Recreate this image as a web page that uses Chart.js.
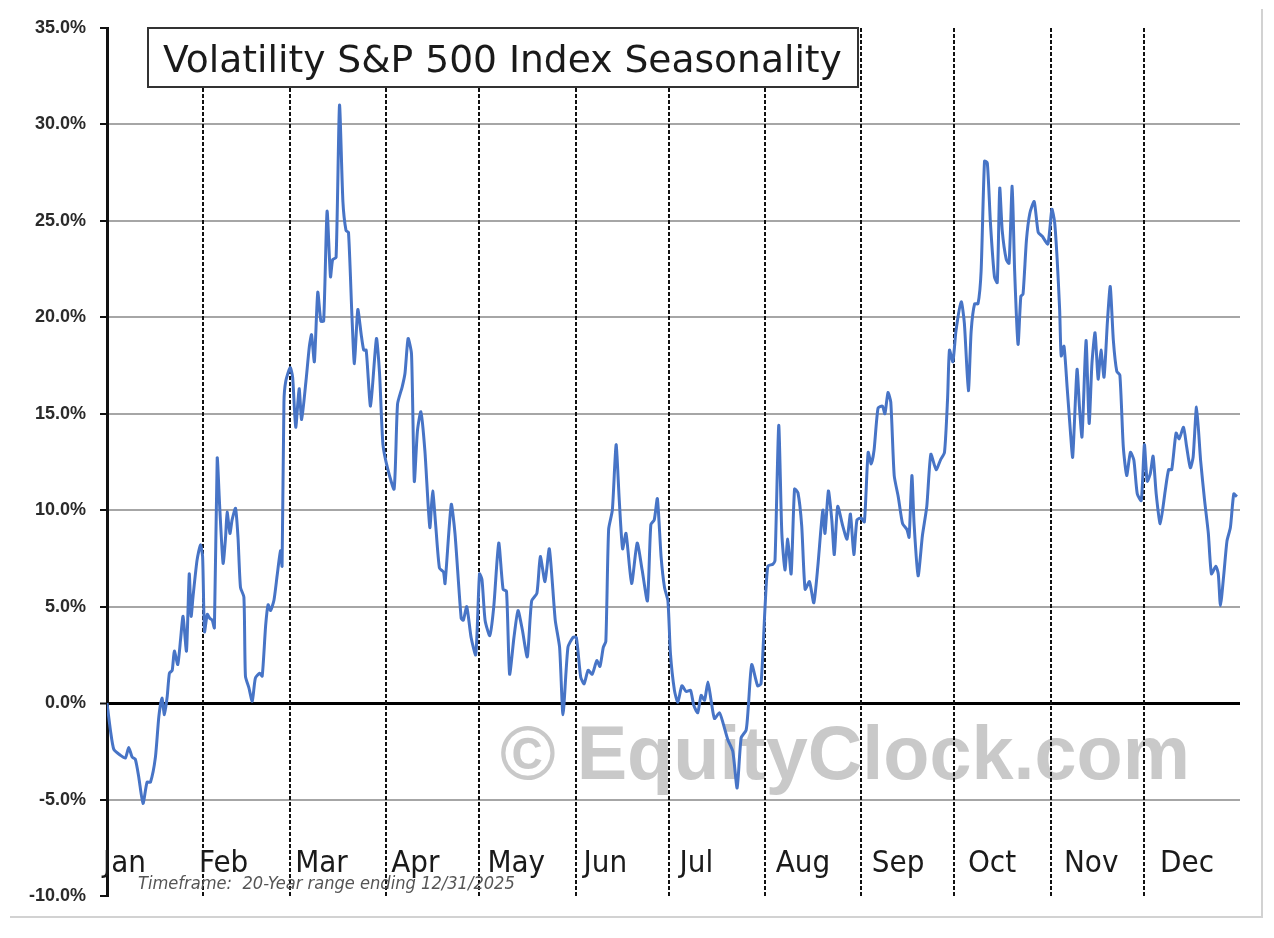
<!DOCTYPE html>
<html>
<head>
<meta charset="utf-8">
<script src="https://cdn.jsdelivr.net/npm/chart.js@4.4.1/dist/chart.umd.min.js"></script>
<style>
  html, body { margin: 0; padding: 0; background: #ffffff; }
  #wrap { width: 1274px; height: 938px; }
</style>
</head>
<body>
<div id="wrap"><canvas id="c" width="1274" height="938"></canvas></div>
<script>
// ---- DATA ----
const chartTitle = 'Volatility S&P 500 Index Seasonality';
const footnote = 'Timeframe:  20-Year range ending 12/31/2025';
const watermark = '\u00A9 EquityClock.com';

const monthLabels = ['Jan','Feb','Mar','Apr','May','Jun','Jul','Aug','Sep','Oct','Nov','Dec'];
const monthStarts = [0, 31, 59, 90, 120, 151, 181, 212, 243, 273, 304, 334];
const yTickValues = [-10, -5, 0, 5, 10, 15, 20, 25, 30, 35];

const dayOfYear = [
  0, 1.1, 2.2, 4.3, 5.9, 7.0, 8.1, 9.1, 10.2, 11.6, 12.9, 14.0, 15.6, 16.7, 17.7, 18.5, 19.4,
  20.1, 21.0, 21.7, 22.8, 23.7, 24.5, 25.6, 26.5, 27.1, 27.7, 29.0, 30.1, 30.8, 31.4, 32.3,
  33.1, 33.9, 34.6, 35.5, 36.3, 37.4, 38.2, 38.7, 39.6, 40.3, 41.4, 42.2, 43.0, 44.1, 44.6,
  45.7, 46.8, 47.8, 49.2, 50.0, 51.1, 51.9, 52.7, 53.8, 54.8, 55.9, 56.4, 57.0, 57.6, 59.0,
  59.8, 60.8, 61.9, 62.7, 64.1, 65.2, 65.9, 66.8, 67.9, 68.9, 69.8, 70.9, 72.0, 72.7, 73.8,
  74.9, 76.0, 77.0, 77.8, 78.9, 79.7, 80.8, 81.9, 82.7, 83.5, 84.9, 86.8, 87.8, 88.9, 90.5,
  92.5, 93.6, 95.1, 96.0, 97.0, 98.1, 99.0, 100.0, 101.1, 102.4, 104.0, 104.9, 105.9, 107.1,
  108.4, 108.9, 110.9, 112.1, 114.1, 114.8, 115.9, 117.3, 118.8, 120.0, 120.8, 121.8, 123.3,
  124.6, 126.2, 127.6, 128.7, 129.7, 131.1, 132.4, 133.8, 135.4, 136.8, 138.5, 139.6, 141.1,
  142.5, 144.4, 145.8, 146.9, 148.5, 150.1, 151.2, 152.6, 153.7, 155.0, 156.3, 157.8, 158.8,
  159.9, 160.7, 161.6, 162.8, 164.0, 165.0, 166.1, 167.2, 169.0, 170.8, 172.4, 174.1, 175.2,
  176.3, 177.3, 178.5, 179.6, 180.7, 181.5, 182.8, 183.9, 185.2, 186.6, 188.0, 189.0, 190.3,
  191.4, 192.5, 193.6, 194.6, 195.7, 197.3, 198.4, 200.0, 201.6, 203.0, 204.3, 205.9, 206.6,
  207.7, 209.6, 210.7, 212.0, 212.9, 214.5, 215.2, 216.4, 217.4, 218.4, 219.3, 220.4, 221.5,
  222.6, 223.8, 224.9, 226.3, 227.7, 229.0, 230.6, 231.3, 232.4, 233.5, 234.3, 235.4, 237.0,
  238.4, 239.5, 240.6, 241.6, 242.9, 244.0, 245.2, 246.2, 247.1, 248.4, 249.8, 250.6, 251.6,
  252.5, 253.6, 254.9, 256.3, 257.7, 258.4, 259.3, 260.0, 261.3, 262.7, 264.1, 265.4, 267.1,
  268.5, 269.8, 270.8, 271.4, 272.5, 273.5, 275.2, 276.2, 277.5, 278.4, 279.5, 280.6, 281.6,
  282.7, 283.6, 284.6, 285.9, 286.8, 287.6, 288.4, 289.7, 290.6, 291.6, 292.4, 293.5, 294.4,
  295.1, 296.2, 297.3, 298.7, 300.0, 301.3, 303.1, 304.4, 305.3, 306.1, 306.9, 307.4, 308.3,
  309.3, 310.4, 311.1, 312.5, 313.3, 314.1, 315.4, 316.4, 317.3, 318.3, 319.3, 320.2, 321.2,
  322.3, 323.2, 324.2, 325.3, 326.3, 327.4, 328.5, 329.7, 330.8, 331.9, 333.2, 334.2, 335.1,
  336.1, 337.0, 338.0, 339.3, 340.9, 342.0, 343.0, 344.4, 345.4, 346.8, 347.8, 349.0, 349.9,
  351.0, 352.3, 353.6, 354.8, 355.8, 357.2, 358.0, 358.7, 359.8, 360.8, 361.9, 363.0, 364.0
];

const seasonalReturn = [
  0, -1.4, -2.4, -2.7, -2.85, -2.3, -2.8, -2.9, -3.8, -5.2, -4.1, -4.1, -2.8, -0.7, 0.26, -0.6, 0.35,
  1.55, 1.7, 2.7, 2.0, 3.3, 4.5, 2.7, 6.7, 4.5, 5.5, 7.4, 8.2, 7.6, 3.7, 4.6,
  4.4, 4.3, 3.9, 12.7, 10.2, 7.25, 8.6, 9.9, 8.8, 9.5, 10.1, 8.6, 6.0, 5.5, 1.4,
  0.8, 0.1, 1.3, 1.55, 1.4, 4.0, 5.1, 4.8, 5.35, 6.6, 7.9, 7.1, 15.6, 16.7, 17.4,
  16.9, 14.3, 16.3, 14.7, 16.7, 18.5, 19.1, 17.7, 21.3, 19.8, 19.8, 25.5, 22.1, 23.0, 23.1,
  31.0, 26.0, 24.5, 24.4, 20.1, 17.6, 20.4, 19.1, 18.3, 18.3, 15.4, 18.9, 17.1, 13.4, 12.1,
  11.1, 15.5, 16.4, 17.1, 18.9, 18.1, 11.5, 14.1, 15.1, 13.1, 9.1, 11.0, 9.2, 7.0,
  6.8, 6.2, 10.3, 8.8, 4.4, 4.3, 5.0, 3.4, 2.5, 6.7, 6.4, 4.3, 3.5,
  5.0, 8.3, 5.9, 5.8, 1.5, 3.4, 4.8, 3.8, 2.4, 5.3, 5.7, 7.6, 6.3,
  8.0, 4.3, 2.9, -0.6, 2.9, 3.4, 3.4, 1.35, 1.0, 1.7, 1.5, 2.2, 1.9,
  2.9, 3.2, 9.0, 10.0, 13.4, 10.6, 8.0, 8.8, 6.2, 8.3, 6.9, 5.3, 9.25,
  9.5, 10.6, 7.6, 6.0, 5.3, 2.6, 0.66, 0.05, 0.9, 0.6, 0.66, -0.1, -0.5,
  0.4, 0.15, 1.1, 0.15, -0.8, -0.5, -1.0, -1.9, -2.5, -4.4, -1.8, -1.4, -0.2,
  2.0, 0.9, 1.0, 5.0, 7.1, 7.2, 7.4, 14.4, 8.8, 6.9, 8.5, 6.7, 11.1,
  10.9, 9.2, 5.9, 6.3, 5.2, 7.1, 10.0, 8.8, 11.0, 9.5, 7.7, 10.2, 9.2,
  8.5, 9.8, 7.7, 9.5, 9.6, 9.4, 13.0, 12.4, 13.1, 15.3, 15.4, 15.0, 16.1,
  15.6, 11.8, 10.7, 9.3, 9.0, 8.6, 11.8, 9.3, 6.6, 8.7, 10.2, 12.9, 12.1,
  12.6, 13.0, 15.8, 18.3, 17.7, 19.3, 20.8, 19.7, 16.2, 19.3, 20.7, 20.7, 22.4,
  28.1, 28.0, 24.9, 22.1, 21.8, 26.7, 24.5, 23.0, 22.8, 26.8, 22.4, 18.6, 21.1,
  21.2, 24.0, 25.4, 26.0, 24.4, 24.2, 23.8, 25.6, 24.9, 23.0, 20.4, 18.0, 18.5,
  16.4, 14.0, 12.75, 17.3, 15.3, 13.8, 18.8, 14.5, 17.6, 19.2, 16.8, 18.3, 16.9,
  19.8, 21.6, 18.8, 17.2, 17.0, 13.3, 11.8, 13.0, 12.6, 10.85, 10.5, 13.4, 11.5,
  11.9, 12.8, 10.85, 9.3, 11.0, 12.1, 12.1, 14.0, 13.7, 14.3, 13.3, 12.2, 12.75,
  15.35, 12.6, 10.5, 8.8, 6.7, 7.1, 6.7, 5.05, 6.7, 8.4, 9.1, 10.85, 10.7
];

// ---- STYLE ----
const LINE_BLUE = '#4774c6';
const CONDENSED = '"DejaVu Sans Condensed", "DejaVu Sans", sans-serif';
const WIDE = '"DejaVu Sans", Verdana, sans-serif';

function fitFont(ctx, text, style, family, targetWidth) {
  ctx.font = style + ' 100px ' + family;
  const w = ctx.measureText(text).width;
  const size = 100 * targetWidth / w;
  return style + ' ' + size.toFixed(2) + 'px ' + family;
}

const decorations = {
  id: 'decorations',
  beforeDraw(chart) {
    const ctx = chart.ctx;
    ctx.save();
    ctx.fillStyle = '#ffffff';
    ctx.fillRect(0, 0, chart.width, chart.height);
    ctx.strokeStyle = '#d2d2d2';
    ctx.lineWidth = 2;
    ctx.beginPath();
    ctx.moveTo(1262, 9);
    ctx.lineTo(1262, 917);
    ctx.lineTo(10, 917);
    ctx.stroke();
    ctx.restore();
  },
  beforeDatasetsDraw(chart) {
    const ctx = chart.ctx;
    const xs = chart.scales.x;
    const ys = chart.scales.y;
    const area = chart.chartArea;
    ctx.save();

    // watermark
    ctx.fillStyle = 'rgba(180,180,180,0.72)';
    ctx.font = fitFont(ctx, watermark, 'bold', '"Liberation Sans", Arial, sans-serif', 690);
    ctx.textBaseline = 'alphabetic';
    ctx.textAlign = 'left';
    ctx.fillText(watermark, 500, 779);

    // vertical dashed month separators
    ctx.strokeStyle = '#111111';
    ctx.lineWidth = 2;
    ctx.setLineDash([4, 2]);
    for (let i = 1; i < monthStarts.length; i++) {
      const px = Math.round(xs.getPixelForValue(monthStarts[i]));
      ctx.beginPath();
      ctx.moveTo(px, area.top);
      ctx.lineTo(px, area.bottom);
      ctx.stroke();
    }
    ctx.setLineDash([]);

    // month labels (evenly spaced along the axis)
    ctx.fillStyle = '#1a1a1a';
    ctx.font = '31px ' + CONDENSED;
    ctx.textAlign = 'left';
    const labelStep = 30.96;
    for (let i = 0; i < monthLabels.length; i++) {
      const px = xs.getPixelForValue(i * labelStep - 1.3);
      ctx.fillText(monthLabels[i], px, ys.getPixelForValue(-8.75));
    }

    // footnote
    ctx.fillStyle = '#555555';
    ctx.font = fitFont(ctx, footnote, 'italic', CONDENSED, 377);
    ctx.fillText(footnote, 138, 889);
    ctx.restore();
  },
  afterDraw(chart) {
    const ctx = chart.ctx;
    ctx.save();
    ctx.fillStyle = '#ffffff';
    ctx.fillRect(148, 28, 710, 59);
    ctx.strokeStyle = '#333333';
    ctx.lineWidth = 2;
    ctx.strokeRect(148, 28, 710, 59);
    ctx.fillStyle = '#1a1a1a';
    ctx.font = fitFont(ctx, chartTitle, 'normal', WIDE, 679);
    ctx.textAlign = 'left';
    ctx.textBaseline = 'alphabetic';
    ctx.fillText(chartTitle, 163, 72);
    ctx.restore();
  }
};

const points = dayOfYear.map((d, i) => ({ x: d, y: seasonalReturn[i] }));

new Chart(document.getElementById('c'), {
  type: 'line',
  data: {
    datasets: [{
      data: points,
      borderColor: LINE_BLUE,
      borderWidth: 3,
      pointRadius: 0,
      tension: 0.2,
      fill: false
    }]
  },
  options: {
    responsive: false,
    animation: false,
    devicePixelRatio: 1,
    layout: { padding: { left: 0, right: 34, top: 28, bottom: 42 } },
    plugins: {
      legend: { display: false },
      tooltip: { enabled: false },
      title: { display: false }
    },
    scales: {
      x: { type: 'linear', min: 0, max: 365, display: false },
      y: {
        type: 'linear',
        min: -10,
        max: 35,
        afterBuildTicks: (s) => { s.ticks = yTickValues.map(v => ({ value: v })); },
        afterFit: (s) => { s.width = 107; },
        ticks: {
          callback: (v) => Number(v).toFixed(1) + '%',
          color: '#2a2a2a',
          padding: 14,
          font: { family: '"Liberation Sans", Arial, sans-serif', size: 18, weight: 'bold' }
        },
        grid: {
          color: (c) => {
            const v = c.tick ? c.tick.value : null;
            if (v === 0) return '#000000';
            if (v === 35 || v === -10) return 'rgba(0,0,0,0)';
            return '#a6a6a6';
          },
          lineWidth: (c) => (c.tick && c.tick.value === 0 ? 3 : 2),
          tickColor: '#111111',
          tickLength: 7,
          tickWidth: 2,
          drawTicks: true
        },
        border: { display: true, color: '#111111', width: 3 }
      }
    }
  },
  plugins: [decorations]
});
</script>
</body>
</html>
